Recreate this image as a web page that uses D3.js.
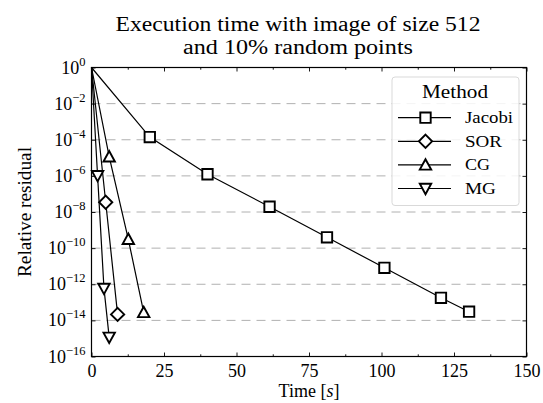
<!DOCTYPE html>
<html>
<head>
<meta charset="utf-8">
<script src="https://cdn.jsdelivr.net/npm/d3@7"></script>
<style>
  body { margin: 0; background: #fff; }
  svg { display: block; font-family: "Liberation Serif", "DejaVu Serif", serif; }
</style>
</head>
<body>
<svg id="chart"></svg>
<script>
const methods = ["Jacobi", "SOR", "CG", "MG"];

// time in seconds, residual as log10 value
const jacobiTime = [0, 20.1, 40, 61.4, 81.2, 101, 120.5, 130.2];
const jacobiLog = [0, -3.85, -5.91, -7.71, -9.4, -11.09, -12.75, -13.52];
const sorTime = [0, 4.9, 9.0];
const sorLog = [0, -7.46, -13.67];
const cgTime = [0, 6.1, 12.7, 18.0];
const cgLog = [0, -4.94, -9.51, -13.56];
const mgTime = [0, 2.1, 4.3, 6.1];
const mgLog = [0, -5.99, -12.23, -14.94];

const xTicks = [0, 25, 50, 75, 100, 125, 150];
const xMinorTicks = [12.5, 37.5, 62.5, 87.5, 112.5, 137.5];
const yTickExps = [0, -2, -4, -6, -8, -10, -12, -14, -16];

const series = [
  { name: methods[0], symbol: "square", time: jacobiTime, logv: jacobiLog },
  { name: methods[1], symbol: "diamond", time: sorTime, logv: sorLog },
  { name: methods[2], symbol: "up", time: cgTime, logv: cgLog },
  { name: methods[3], symbol: "down", time: mgTime, logv: mgLog },
];

const svgWidth = 543;
const svgHeight = 403;
const m_left = 91.5;
const m_right = 16.5;
const m_top = 67.5;
const m_bottom = 46.5;
const width = svgWidth - m_left - m_right;
const height = svgHeight - m_top - m_bottom;

const svg = d3.select("#chart").attr("width", svgWidth).attr("height", svgHeight);
const plot = svg.append("g").attr("transform", `translate(${m_left}, ${m_top})`);

const xScale = d3.scaleLinear().domain([0, 150]).range([0, width]);
const yScale = d3.scaleLog().domain([1e-16, 1]).range([height, 0]);

// grid
plot.append("g")
  .selectAll("line")
  .data(yTickExps.filter((e) => e !== 0 && e !== -16))
  .join("line")
  .attr("x1", 0)
  .attr("x2", width)
  .attr("y1", (e) => yScale(Math.pow(10, e)))
  .attr("y2", (e) => yScale(Math.pow(10, e)))
  .attr("stroke", "#b0b0b0")
  .attr("stroke-width", 1)
  .attr("stroke-dasharray", "9,6");

// axes with inward ticks
function styleAxis(g) {
  g.select(".domain").remove();
  g.selectAll(".tick line").attr("stroke", "#000").attr("stroke-width", 0.9);
}

plot.append("g")
  .attr("transform", `translate(0, ${height})`)
  .call(d3.axisBottom(xScale).tickValues(xTicks).tickSizeInner(-4).tickSizeOuter(0).tickPadding(8).tickFormat(d3.format("d")))
  .call(styleAxis)
  .call((g) => g.selectAll("text").attr("font-size", 18).attr("font-family", "Liberation Serif").attr("fill", "#000"));

plot.append("g")
  .attr("transform", `translate(0, ${height})`)
  .call(d3.axisBottom(xScale).tickValues(xMinorTicks).tickSizeInner(-2.2).tickSizeOuter(0).tickFormat(""))
  .call(styleAxis);

plot.append("g")
  .call(d3.axisTop(xScale).tickValues(xTicks).tickSizeInner(-4).tickSizeOuter(0).tickFormat(""))
  .call(styleAxis);
plot.append("g")
  .call(d3.axisTop(xScale).tickValues(xMinorTicks).tickSizeInner(-2.2).tickSizeOuter(0).tickFormat(""))
  .call(styleAxis);

const yTickVals = yTickExps.map((e) => Math.pow(10, e));
plot.append("g")
  .call(d3.axisLeft(yScale).tickValues(yTickVals).tickSizeInner(-4).tickSizeOuter(0).tickFormat(""))
  .call(styleAxis);

plot.append("g")
  .attr("transform", `translate(${width}, 0)`)
  .call(d3.axisRight(yScale).tickValues(yTickVals).tickSizeInner(-4).tickSizeOuter(0).tickFormat(""))
  .call(styleAxis);

// y tick labels 10^e
yTickExps.forEach((e) => {
  const t = plot.append("text")
    .attr("x", -6)
    .attr("y", yScale(Math.pow(10, e)) + 6)
    .attr("text-anchor", "end")
    .attr("font-size", 18)
    .attr("fill", "#000");
  t.append("tspan").text("10");
  t.append("tspan")
    .attr("dy", -8)
    .attr("font-size", 12.5)
    .text(e === 0 ? "0" : "\u2212" + Math.abs(e));
});

// frame
plot.append("rect")
  .attr("width", width)
  .attr("height", height)
  .attr("fill", "none")
  .attr("stroke", "#000")
  .attr("stroke-width", 1.2);

// marker drawing
function drawMarker(g, symbol, cx, cy) {
  const s = 5.2;
  let path;
  if (symbol === "square") {
    path = `M${cx - s},${cy - s}H${cx + s}V${cy + s}H${cx - s}Z`;
  } else if (symbol === "diamond") {
    const d = 6.6;
    path = `M${cx},${cy - d}L${cx + d},${cy}L${cx},${cy + d}L${cx - d},${cy}Z`;
  } else if (symbol === "up") {
    path = `M${cx},${cy - s - 0.5}L${cx + s + 0.5},${cy + s - 0.5}L${cx - s - 0.5},${cy + s - 0.5}Z`;
  } else {
    path = `M${cx},${cy + s + 0.5}L${cx + s + 0.5},${cy - s + 0.5}L${cx - s - 0.5},${cy - s + 0.5}Z`;
  }
  g.append("path")
    .attr("d", path)
    .attr("fill", "#fff")
    .attr("stroke", "#000")
    .attr("stroke-width", 1.9);
}

const line = d3.line()
  .x((d) => xScale(d[0]))
  .y((d) => yScale(Math.pow(10, d[1])));

series.forEach((s) => {
  const pts = s.time.map((t, i) => [t, s.logv[i]]);
  plot.append("path")
    .datum(pts)
    .attr("d", line)
    .attr("fill", "none")
    .attr("stroke", "#000")
    .attr("stroke-width", 1.2);
  const mg = plot.append("g");
  pts.slice(1).forEach((p) => drawMarker(mg, s.symbol, xScale(p[0]), yScale(Math.pow(10, p[1]))));
});

// legend
const legend = svg.append("g").attr("transform", "translate(392, 77)");
legend.append("rect")
  .attr("width", 127)
  .attr("height", 128.5)
  .attr("rx", 3)
  .attr("fill", "#fff")
  .attr("fill-opacity", 0.85)
  .attr("stroke", "#d9d9d9")
  .attr("stroke-width", 1);
legend.append("text")
  .attr("x", 63)
  .attr("y", 21)
  .attr("text-anchor", "middle")
  .attr("font-size", 19)
  .attr("textLength", 66)
  .attr("lengthAdjust", "spacingAndGlyphs")
  .attr("fill", "#000")
  .text("Method");
const legendLen = [48, 37, 25, 31];
series.forEach((s, i) => {
  const ly = 40.7 + i * 23.6;
  legend.append("line")
    .attr("x1", 6).attr("x2", 59)
    .attr("y1", ly).attr("y2", ly)
    .attr("stroke", "#000").attr("stroke-width", 1.2);
  drawMarker(legend, s.symbol, 33.5, ly);
  legend.append("text")
    .attr("x", 73)
    .attr("y", ly + 5.5)
    .attr("font-size", 16)
    .attr("textLength", legendLen[i])
    .attr("lengthAdjust", "spacingAndGlyphs")
    .attr("fill", "#000")
    .text(s.name);
});

// titles
svg.append("text")
  .attr("x", 298)
  .attr("y", 31)
  .attr("text-anchor", "middle")
  .attr("font-size", 20)
  .attr("textLength", 365)
  .attr("lengthAdjust", "spacingAndGlyphs")
  .attr("fill", "#000")
  .text("Execution time with image of size 512");
svg.append("text")
  .attr("x", 298)
  .attr("y", 54)
  .attr("text-anchor", "middle")
  .attr("font-size", 20)
  .attr("textLength", 230)
  .attr("lengthAdjust", "spacingAndGlyphs")
  .attr("fill", "#000")
  .text("and 10% random points");

const xl = svg.append("text")
  .attr("x", m_left + width / 2)
  .attr("y", 397)
  .attr("text-anchor", "middle")
  .attr("font-size", 18)
  .attr("fill", "#000");
xl.append("tspan").text("Time [");
xl.append("tspan").attr("font-style", "italic").text("s");
xl.append("tspan").text("]");

svg.append("text")
  .attr("transform", `translate(31, ${m_top + height / 2}) rotate(-90)`)
  .attr("text-anchor", "middle")
  .attr("font-size", 18)
  .attr("textLength", 130)
  .attr("lengthAdjust", "spacingAndGlyphs")
  .attr("fill", "#000")
  .text("Relative residual");
</script>
</body>
</html>
